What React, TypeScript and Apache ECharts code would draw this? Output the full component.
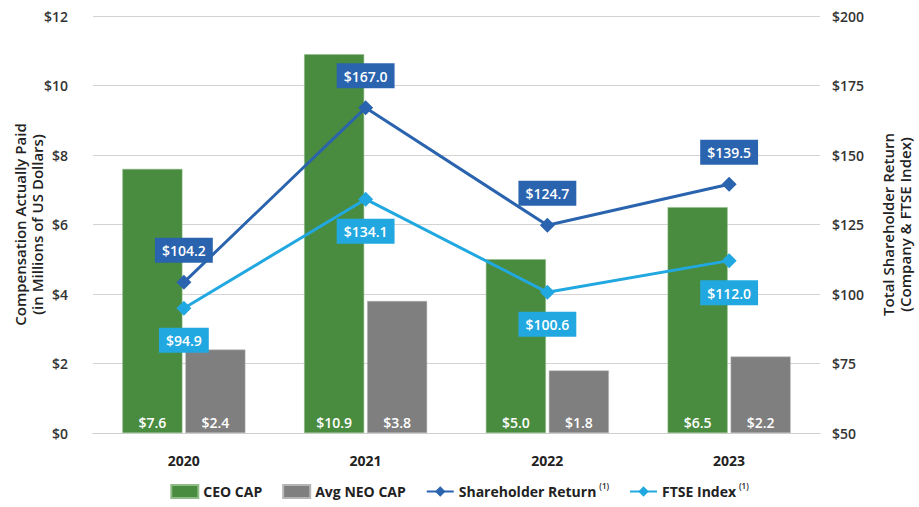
import React, { useEffect, useRef } from "react";
import * as echarts from "echarts";

const years = ["2020", "2021", "2022", "2023"];
const ceoCap = [7.6, 10.9, 5.0, 6.5];
const neoCap = [2.4, 3.8, 1.8, 2.2];
const shareholderReturn = [104.2, 167.0, 124.7, 139.5];
const ftseIndex = [94.9, 134.1, 100.6, 112.0];

const FONT = "'Open Sans', 'Noto Sans', sans-serif";
const GREEN = "#4a8c3f";
const GRAY = "#7f7f7f";
const DARKBLUE = "#2a63ae";
const LIGHTBLUE = "#22a8e0";

export default function App() {
  const ref = useRef<HTMLDivElement>(null);
  useEffect(() => {
    if (!ref.current) return;
    const chart = echarts.init(ref.current, undefined, { renderer: "svg" });
    const barLabel = {
      show: true,
      position: "insideBottom",
      distance: 4,
      color: "#fff",
      fontFamily: FONT,
      fontWeight: 600,
      fontSize: 14,
      formatter: (p: any) => "$" + Number(p.value).toFixed(1),
    };
    const boxLabel = (color: string, position: string) => ({
      show: true,
      position,
      distance: 12,
      color: "#fff",
      backgroundColor: color,
      padding: [6, 7, 5, 7],
      fontFamily: FONT,
      fontWeight: 600,
      fontSize: 14,
      formatter: (p: any) => "$" + Number(p.value).toFixed(1),
    });
    chart.setOption({
      animation: false,
      textStyle: { fontFamily: FONT },
      grid: { left: 93, right: 99, top: 16, bottom: 74, containLabel: false, outerBoundsMode: "none" },
      legend: {
        bottom: 3,
        left: "center",
        itemWidth: 27,
        itemHeight: 13,
        itemGap: 20,
        textStyle: {
          fontFamily: FONT,
          fontWeight: 700,
          fontSize: 14,
          color: "#222",
          rich: {
            sup: { fontSize: 8, fontWeight: 600, color: "#222", verticalAlign: "top", padding: [0, 0, 12, 3] },
          },
        },
        formatter: (name: string) =>
          name === "Shareholder Return" || name === "FTSE Index" ? name + "{sup|(1)}" : name,
        data: [
          { name: "CEO CAP", icon: "rect" },
          { name: "Avg NEO CAP", icon: "rect" },
          { name: "Shareholder Return" },
          { name: "FTSE Index" },
        ],
      },
      xAxis: {
        type: "category",
        data: years,
        axisTick: { show: false },
        axisLine: { show: true, lineStyle: { color: "#cfcfcf", width: 1 } },
        axisLabel: { margin: 20, fontFamily: FONT, fontWeight: 700, fontSize: 14, color: "#222" },
      },
      yAxis: [
        {
          type: "value",
          min: 0,
          max: 12,
          interval: 2,
          name: "Compensation Actually Paid\n(in Millions of US Dollars)",
          nameLocation: "middle",
          nameRotate: 90,
          nameGap: 48,
          nameMoveOverlap: false,
          nameTextStyle: { fontFamily: FONT, fontWeight: 600, fontSize: 15, color: "#222", lineHeight: 17 },
          axisLine: { show: false },
          axisTick: { show: false },
          splitLine: { lineStyle: { color: "#d3d3d3", width: 1 } },
          axisLabel: { margin: 25, fontFamily: FONT, fontWeight: 600, fontSize: 14, color: "#333", formatter: (v: number) => "$" + v },
        },
        {
          type: "value",
          min: 50,
          max: 200,
          interval: 25,
          name: "Total Shareholder Return\n(Company & FTSE Index)",
          nameLocation: "middle",
          nameRotate: 90,
          nameGap: 59,
          nameMoveOverlap: false,
          nameTextStyle: { fontFamily: FONT, fontWeight: 600, fontSize: 15, color: "#222", lineHeight: 17 },
          axisLine: { show: false },
          axisTick: { show: false },
          splitLine: { show: false },
          axisLabel: { margin: 12, fontFamily: FONT, fontWeight: 600, fontSize: 14, color: "#333", formatter: (v: number) => "$" + v },
        },
      ],
      series: [
        {
          name: "CEO CAP",
          type: "bar",
          data: ceoCap,
          barWidth: 60,
          barGap: "5%",
          itemStyle: { color: GREEN, borderColor: "#8fbb86", borderWidth: 0.5 },
          label: barLabel,
        },
        {
          name: "Avg NEO CAP",
          type: "bar",
          data: neoCap,
          barWidth: 60,
          itemStyle: { color: GRAY, borderColor: "#b5b5b5", borderWidth: 0.5 },
          label: barLabel,
        },
        {
          name: "Shareholder Return",
          type: "line",
          yAxisIndex: 1,
          data: shareholderReturn,
          symbol: "diamond",
          symbolSize: 15,
          lineStyle: { color: DARKBLUE, width: 3 },
          itemStyle: { color: DARKBLUE },
          label: boxLabel(DARKBLUE, "top"),
          z: 5,
        },
        {
          name: "FTSE Index",
          type: "line",
          yAxisIndex: 1,
          data: ftseIndex,
          symbol: "diamond",
          symbolSize: 15,
          lineStyle: { color: LIGHTBLUE, width: 3 },
          itemStyle: { color: LIGHTBLUE },
          label: boxLabel(LIGHTBLUE, "bottom"),
          z: 5,
        },
      ],
    });
    return () => chart.dispose();
  }, []);
  return <div ref={ref} style={{ width: 919, height: 507, position: "absolute", left: 0, top: 0 }} />;
}
